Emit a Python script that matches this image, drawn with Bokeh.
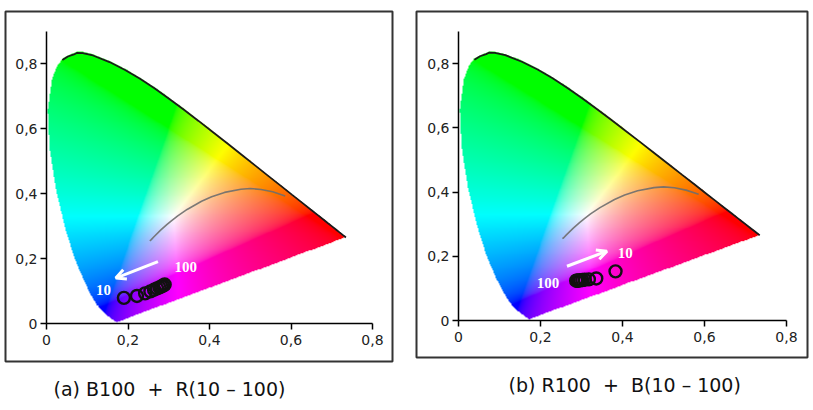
import numpy as np
from bokeh.plotting import figure
from bokeh.layouts import row
from bokeh.models import (FixedTicker, CustomJSTickFormatter, Label, Arrow, OpenHead,
                          LinearAxis, Title, Range1d)
from bokeh.embed import file_html
from bokeh.resources import INLINE

# ---------------- data ----------------
# CIE 1931 spectral locus (380 -> 700 nm)
locus_x = [0.1741, 0.1740, 0.1738, 0.1736, 0.1733, 0.1730, 0.1726, 0.1721, 0.1714, 0.1703,
           0.1689, 0.1669, 0.1644, 0.1611, 0.1566, 0.1510, 0.1440, 0.1355, 0.1241, 0.1096,
           0.0913, 0.0687, 0.0454, 0.0235, 0.0082, 0.0039, 0.0139, 0.0272, 0.0389, 0.0525,
           0.0674, 0.0743, 0.0889, 0.1142,
           0.1547, 0.1929, 0.2296, 0.2658, 0.3016, 0.3373, 0.3731, 0.4087, 0.4441, 0.4788,
           0.5125, 0.5448, 0.5752, 0.6029, 0.6270, 0.6482, 0.6658, 0.6801, 0.6915, 0.7006,
           0.7079, 0.7140, 0.7190, 0.7230, 0.7260, 0.7283, 0.7300, 0.7311, 0.7320, 0.7334,
           0.7347]
locus_y = [0.0050, 0.0050, 0.0049, 0.0049, 0.0048, 0.0048, 0.0048, 0.0048, 0.0051, 0.0058,
           0.0069, 0.0086, 0.0109, 0.0138, 0.0177, 0.0227, 0.0297, 0.0399, 0.0578, 0.0868,
           0.1327, 0.2007, 0.2950, 0.4127, 0.5384, 0.6548, 0.7502, 0.7935, 0.8120, 0.8230,
           0.8294, 0.8338, 0.8334, 0.8262,
           0.8059, 0.7816, 0.7543, 0.7243, 0.6923, 0.6589, 0.6245, 0.5896, 0.5547, 0.5202,
           0.4866, 0.4544, 0.4242, 0.3965, 0.3725, 0.3514, 0.3340, 0.3197, 0.3083, 0.2993,
           0.2920, 0.2859, 0.2809, 0.2770, 0.2740, 0.2717, 0.2700, 0.2689, 0.2680, 0.2666,
           0.2653]
OUTLINE_START = 28  # index where the dark edge of the locus starts (top of the horseshoe)

# Planckian locus (high T -> low T)
planck_x = [0.2535, 0.2565, 0.2637, 0.2807, 0.2952, 0.3064, 0.3221, 0.3451, 0.3805,
            0.4053, 0.4369, 0.4770, 0.5000, 0.5267, 0.5550, 0.5857]
planck_y = [0.2550, 0.2577, 0.2674, 0.2884, 0.3048, 0.3166, 0.3318, 0.3516, 0.3768,
            0.3907, 0.4041, 0.4137, 0.4160, 0.4133, 0.4060, 0.3931]

# measured chromaticities, level 10 -> 100
a_x = [0.190, 0.222, 0.242, 0.255, 0.264, 0.271, 0.277, 0.282, 0.286, 0.290]
a_y = [0.079, 0.085, 0.093, 0.099, 0.104, 0.108, 0.111, 0.114, 0.117, 0.120]
b_x = [0.383, 0.336, 0.318, 0.308, 0.302, 0.297, 0.294, 0.291, 0.289, 0.287]
b_y = [0.153, 0.131, 0.128, 0.127, 0.126, 0.125, 0.125, 0.124, 0.124, 0.124]

tick_values = [0, 0.2, 0.4, 0.6, 0.8]
tick_labels = ["0", "0,2", "0,4", "0,6", "0,8"]
NB = "\u00a0"
captions = ["(a) B100" + NB * 2 + "+" + NB * 2 + "R(10" + NB + "\u2013" + NB + "100)",
            "(b) R100" + NB * 2 + "+" + NB * 2 + "B(10" + NB + "\u2013" + NB + "100)"]
end_labels_a = ["10", "100"]
end_labels_b = ["10", "100"]
# annotation positions (data coords)
arrow_a = [0.2735, 0.191, 0.170, 0.140]
arrow_b = [0.2646, 0.169, 0.362, 0.216]
lab_a = [(0.140, 0.104), (0.342, 0.174)]
lab_b = [(0.407, 0.211), (0.218, 0.116)]

# ---------------- chromaticity image ----------------
XMAX, YMAX = 0.8, 0.9
NX, NY = 660, 600
gx = (np.arange(NX) + 0.5) / NX * XMAX
gy = (np.arange(NY) + 0.5) / NY * YMAX
GX, GY = np.meshgrid(gx, gy)

px = np.array(locus_x)
py = np.array(locus_y)
inside = np.zeros(GX.shape, dtype=bool)
n = len(px)
j = n - 1
with np.errstate(divide="ignore", invalid="ignore"):
    for i in range(n):
        xi, yi, xj, yj = px[i], py[i], px[j], py[j]
        cond = (yi > GY) != (yj > GY)
        if yj != yi:
            xint = (xj - xi) * (GY - yi) / (yj - yi) + xi
            inside ^= cond & (GX < xint)
        j = i

yy = np.maximum(GY, 1e-6)
Xc = GX / yy
Yc = np.ones_like(GX)
Zc = (1 - GX - GY) / yy
R = 3.2406 * Xc - 1.5372 * Yc - 0.4986 * Zc
G = -0.9689 * Xc + 1.8758 * Yc + 0.0415 * Zc
B = 0.0557 * Xc - 0.2040 * Yc + 1.0570 * Zc
rgb = np.clip(np.stack([R, G, B], axis=-1), 0, None)
mx = rgb.max(axis=-1, keepdims=True)
rgb = rgb / np.maximum(mx, 1e-9)
rgb = np.where(rgb <= 0.0031308, 12.92 * rgb, 1.055 * np.power(rgb, 1 / 2.4) - 0.055)
rgb = np.clip(rgb, 0, 1)

img = np.zeros((NY, NX), dtype=np.uint32)
view = img.view(dtype=np.uint8).reshape((NY, NX, 4))
view[..., 0] = (rgb[..., 0] * 255).astype(np.uint8)
view[..., 1] = (rgb[..., 1] * 255).astype(np.uint8)
view[..., 2] = (rgb[..., 2] * 255).astype(np.uint8)
view[..., 3] = np.where(inside, 255, 0).astype(np.uint8)


def make_panel(width, xoff, box, x0px, sx, y0px, sy, cap, cap_offset,
               pts_x, pts_y, arrow, labs, labtexts):
    # box: outer panel rectangle in page pixels (left, top, right, bottom)
    l, t, r, b = box
    x_start = (l - x0px) / sx
    x_end = (r - x0px) / sx
    y_start = (y0px - b) / sy
    y_end = (y0px - t) / sy
    fl = l - xoff
    fw = r - l
    ft = t
    fh = b - t
    p = figure(width=width, height=410,
               x_range=Range1d(x_start, x_end), y_range=Range1d(y_start, y_end),
               frame_width=fw, frame_height=fh, min_border_left=fl,
               min_border_right=width - fl - fw, min_border_top=ft,
               min_border_bottom=410 - ft - fh, x_axis_type=None, y_axis_type=None,
               output_backend="svg", toolbar_location=None, tools="")
    p.outline_line_color = "#333333"
    p.outline_line_width = 2
    p.background_fill_color = "white"
    p.border_fill_color = "white"

    fmt = CustomJSTickFormatter(args=dict(vals=tick_values, labs=tick_labels), code="""
        for (let i = 0; i < vals.length; i++) { if (Math.abs(tick - vals[i]) < 1e-6) return labs[i]; }
        return "";
    """)
    xax = LinearAxis(fixed_location=0, bounds=(0, XMAX))
    yax = LinearAxis(fixed_location=0, bounds=(0, YMAX))
    for ax in (xax, yax):
        ax.ticker = FixedTicker(ticks=tick_values)
        ax.formatter = fmt
        ax.minor_tick_line_color = None
        ax.axis_line_color = "black"
        ax.axis_line_width = 1.5
        ax.major_tick_line_color = "black"
        ax.major_tick_line_width = 1.5
        ax.major_tick_in = 0
        ax.major_tick_out = 6
        ax.major_label_text_font = "DejaVu Sans"
        ax.major_label_text_font_size = "14px"
        ax.major_label_text_color = "#222222"
    xax.major_label_standoff = 5
    yax.major_label_standoff = 3

    p.image_rgba(image=[img], x=0, y=0, dw=XMAX, dh=YMAX)
    p.line(locus_x[OUTLINE_START:], locus_y[OUTLINE_START:], line_color="#1a1a1a",
           line_width=1.8)
    p.line(planck_x, planck_y, line_color="#6e6e6e", line_width=1.6, line_alpha=0.9)
    p.scatter(pts_x, pts_y, marker="circle", size=12, fill_color=None,
              line_color="#111111", line_width=2.4)

    p.add_layout(xax, "below")
    p.add_layout(yax, "left")

    p.add_layout(Arrow(x_start=arrow[0], y_start=arrow[1], x_end=arrow[2], y_end=arrow[3],
                       line_color="white", line_width=3,
                       end=OpenHead(line_color="white", line_width=3, size=10)))
    for (lx, ly), txt in zip(labs, labtexts):
        p.add_layout(Label(x=lx, y=ly, text=txt, text_color="white",
                           text_font="Liberation Serif", text_font_style="bold",
                           text_font_size="15px", text_align="center",
                           text_baseline="middle"))
    p.add_layout(Title(text=cap, align="left", offset=cap_offset, standoff=28,
                       text_font="DejaVu Sans", text_font_size="19px",
                       text_font_style="normal", text_color="#111111"), "below")
    return p


p1 = make_panel(406, 0, (5, 6, 392, 356), 46, 407.5, 318, 324.4, captions[0], 48,
                a_x, a_y, arrow_a, lab_a, end_labels_a)
p2 = make_panel(407, 406, (416, 11, 807, 357), 458, 410.0, 320, 321.1, captions[1], 92,
                b_x, b_y, arrow_b, lab_b, end_labels_b)

layout = row(p1, p2)
open("out.html", "w").write(file_html(layout, INLINE))
